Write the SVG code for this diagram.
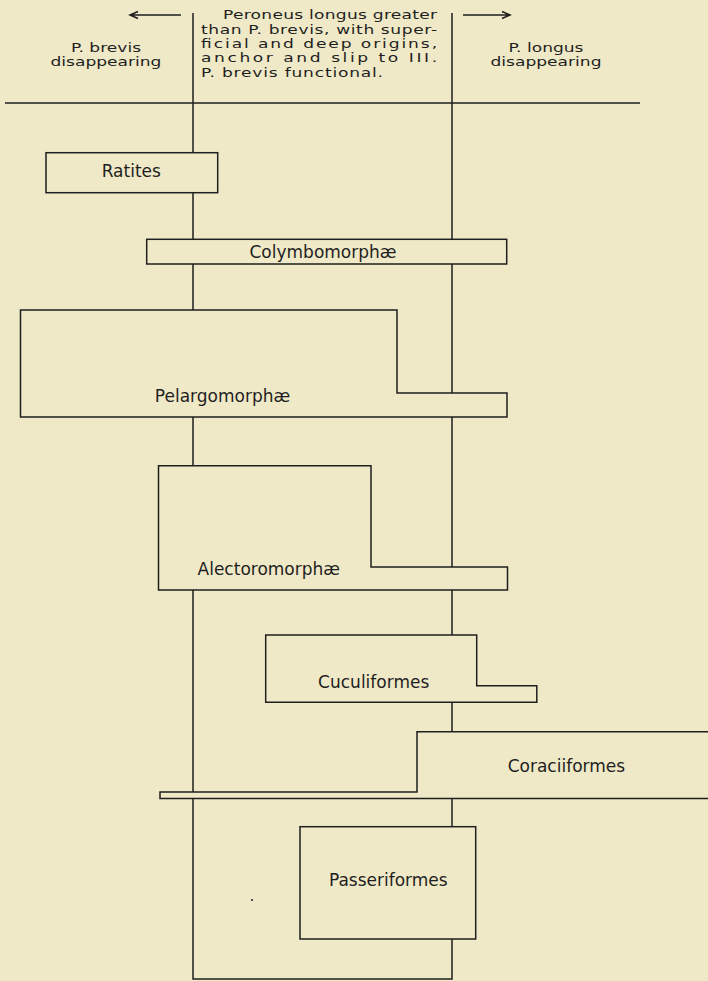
<svg xmlns="http://www.w3.org/2000/svg" width="708" height="981" viewBox="0 0 708 981">
<style>
.bg{fill:#efe9c7}
.box{fill:#efe9c7;stroke:#1f1f1f;stroke-width:1.5;stroke-linejoin:miter}
.ln{fill:none;stroke:#1f1f1f;stroke-width:1.5}
.hd{font-family:"DejaVu Sans",sans-serif;font-size:12.2px;fill:#1f1f1f}
.lbl{font-family:"DejaVu Sans",sans-serif;font-size:17px;fill:#1f1f1f;text-anchor:middle}
</style>
<rect class="bg" x="0" y="0" width="708" height="981"/>

<g id="header">
  <path class="ln" d="M131,15 H181 M138,11.5 L130,15 L138,18.5"/>
  <path class="ln" d="M463,15 H510 M502,11.5 L510,15 L502,18.5"/>
  <g transform="scale(1.4,1)">
    <text class="hd" x="159.3" y="19.5" textLength="152.9" lengthAdjust="spacing">Peroneus longus greater</text>
    <text class="hd" x="143.6" y="33.8" textLength="168.6" lengthAdjust="spacing">than P. brevis, with super-</text>
    <text class="hd" x="143.6" y="48.1" textLength="168.6" lengthAdjust="spacing">ficial and deep origins,</text>
    <text class="hd" x="143.6" y="62.4" textLength="168.6" lengthAdjust="spacing">anchor and slip to III.</text>
    <text class="hd" x="143.6" y="76.7" textLength="130" lengthAdjust="spacing">P. brevis functional.</text>
    <text class="hd" x="75.7" y="52" text-anchor="middle">P. brevis</text>
    <text class="hd" x="75.7" y="66.5" text-anchor="middle">disappearing</text>
    <text class="hd" x="390" y="52" text-anchor="middle">P. longus</text>
    <text class="hd" x="390" y="66.5" text-anchor="middle">disappearing</text>
  </g>
</g>

<g id="connectors">
  <path class="ln" d="M5,103 H640"/>
  <path class="ln" d="M193,13 V152.7 M193,192.7 V239.3 M193,264 V310 M193,417 V465 M193,590 V792 M193,798.5 V979 H452 V939"/>
  <path class="ln" d="M452,13 V239.3 M452,264 V393 M452,417 V567 M452,590 V635 M452,702.3 V731.7 M452,798.5 V826.7"/>
</g>

<g id="ratites">
  <rect class="box" x="46" y="152.7" width="171.7" height="40"/>
  <text class="lbl" x="131.3" y="177.3">Ratites</text>
</g>

<g id="colymbomorphae">
  <rect class="box" x="146.7" y="239.3" width="360" height="24.7"/>
  <text class="lbl" x="323" y="257.5">Colymbomorphæ</text>
</g>

<g id="pelargomorphae">
  <path class="box" d="M20.5,310 H397 V393 H507 V417 H20.5 Z"/>
  <text class="lbl" x="222.5" y="402">Pelargomorphæ</text>
</g>

<g id="alectoromorphae">
  <path class="box" d="M158.5,465.7 H371 V567 H507.5 V590 H158.5 Z"/>
  <text class="lbl" x="268.8" y="575">Alectoromorphæ</text>
</g>

<g id="cuculiformes">
  <path class="box" d="M265.7,635 H476.7 V685.7 H536.8 V702.3 H265.7 Z"/>
  <text class="lbl" x="373.7" y="688.3">Cuculiformes</text>
</g>

<g id="coraciiformes">
  <path class="box" d="M417,731.7 H712 V798.5 H160 V792 H417 Z"/>
  <text class="lbl" x="566.4" y="772.3">Coraciiformes</text>
</g>

<g id="passeriformes">
  <rect class="box" x="300" y="826.7" width="175.7" height="112.3"/>
  <text class="lbl" x="388.3" y="886">Passeriformes</text>
</g>

<circle cx="252" cy="900" r="1.1" fill="#2a2a2a"/>
</svg>
